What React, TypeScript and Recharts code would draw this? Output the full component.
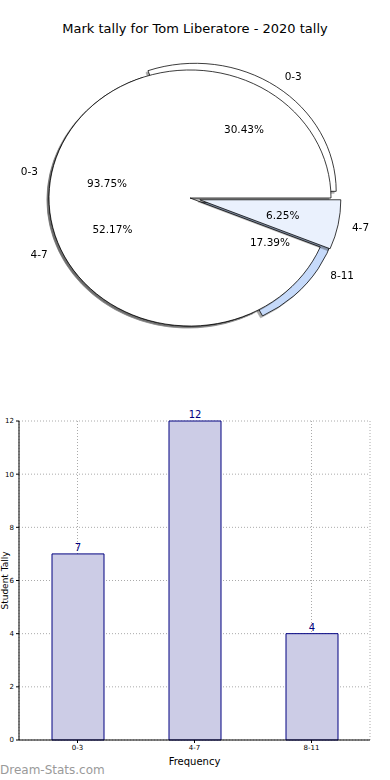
import React from 'react';
import {
    PieChart,
    Pie,
    Cell,
    BarChart,
    Bar,
    XAxis,
    YAxis,
    CartesianGrid,
    LabelList
} from 'recharts';

// Chart data
const ranges = ['0-3', '4-7', '8-11'];
const tally = [7, 12, 4];
const innerRanges = ['0-3', '4-7'];
const innerTally = [15, 1];
const yTicks = [0, 2, 4, 6, 8, 10, 12];

const outerData = ranges.map((range, i) => ({ range, count: tally[i] }));
const innerData = innerRanges.map((range, i) => ({ range, count: innerTally[i] }));

const outerFills = ['#ffffff', '#ffffff', '#c6dafa'];
const innerFills = ['#ffffff', '#eaf1fd'];
const outerExplode = [9, 0, 9];
const innerExplode = [0, 10];

const FONT = '"DejaVu Sans", Verdana, sans-serif';
const SCALE_Y = 0.908;
const RADIAN = Math.PI / 180;
const CX = 190;
const CY = 198;
const R = 141;

const midAngles = (vals: number[]) => {
    const total = vals.reduce((a, b) => a + b, 0);
    let acc = 0;
    return vals.map((v) => {
        const m = ((acc + v / 2) / total) * 360;
        acc += v;
        return m;
    });
};

const sectorStyle = (angle: number, off: number): React.CSSProperties => ({
    transform: `translate(${off * Math.cos(angle * RADIAN)}px, ${-off * Math.sin(angle * RADIAN)}px)`,
    filter: 'drop-shadow(-1.5px 2px 0px rgba(0,0,0,0.35))'
});

// undo the vertical squash on text
const counter = (x: number, y: number) =>
    `translate(${x} ${y}) scale(1 ${1 / SCALE_Y}) translate(${-x} ${-y})`;

const makeLabel = (explode: number[]) => (props: any) => {
    const { cx, cy, midAngle, outerRadius, index, percent, range } = props;
    const off = explode[index] || 0;
    const cos = Math.cos(-midAngle * RADIAN);
    const sin = Math.sin(-midAngle * RADIAN);
    const ox = cx + off * cos;
    const oy = cy + off * sin;
    const nx = ox + outerRadius * 1.1 * cos;
    const ny = oy + outerRadius * 1.1 * sin;
    const px = ox + outerRadius * 0.6 * cos;
    const py = oy + outerRadius * 0.6 * sin;
    return (
        <g>
            <text x={nx} y={ny} fill="#000" fontSize={10.5} fontFamily={FONT}
                textAnchor={cos >= 0 ? 'start' : 'end'} dominantBaseline="central"
                transform={counter(nx, ny)}>
                {range}
            </text>
            <text x={px} y={py} fill="#000" fontSize={10.5} fontFamily={FONT}
                textAnchor="middle" dominantBaseline="central"
                transform={counter(px, py)}>
                {(percent * 100).toFixed(2)}%
            </text>
        </g>
    );
};

const App = () => {
    const outerMid = midAngles(tally);
    const innerMid = midAngles(innerTally);

    return (
        <div style={{ position: 'absolute', top: 0, left: 0, width: 390, height: 780, background: '#fff', fontFamily: FONT, overflow: 'hidden' }}>
            {/* Title */}
            <div style={{ position: 'absolute', top: 21, left: 0, width: 390, textAlign: 'center', fontSize: 13, color: '#000' }}>
                Mark tally for Tom Liberatore - 2020 tally
            </div>

            {/* Pies */}
            <div style={{ position: 'absolute', top: 0, left: 0, width: 390, height: 360, transform: `scaleY(${SCALE_Y})`, transformOrigin: `${CX}px ${CY}px` }}>
                <PieChart width={390} height={360} margin={{ top: 0, right: 0, bottom: 0, left: 0 }}>
                    <Pie
                        data={outerData}
                        dataKey="count"
                        nameKey="range"
                        cx={CX}
                        cy={CY}
                        outerRadius={R}
                        startAngle={0}
                        endAngle={360}
                        stroke="#000"
                        strokeWidth={0.8}
                        labelLine={false}
                        label={makeLabel(outerExplode)}
                        isAnimationActive={false}
                    >
                        {outerData.map((d, i) => (
                            <Cell key={d.range} fill={outerFills[i]} style={sectorStyle(outerMid[i], outerExplode[i])} />
                        ))}
                    </Pie>
                    <Pie
                        data={innerData}
                        dataKey="count"
                        nameKey="range"
                        cx={CX}
                        cy={CY}
                        outerRadius={R}
                        startAngle={0}
                        endAngle={360}
                        stroke="#000"
                        strokeWidth={0.8}
                        labelLine={false}
                        label={makeLabel(innerExplode)}
                        isAnimationActive={false}
                    >
                        {innerData.map((d, i) => (
                            <Cell key={d.range} fill={innerFills[i]} style={sectorStyle(innerMid[i], innerExplode[i])} />
                        ))}
                    </Pie>
                </PieChart>
            </div>

            {/* Bars */}
            <div style={{ position: 'absolute', top: 400, left: 0, width: 390, height: 380 }}>
                <BarChart
                    width={390}
                    height={380}
                    data={outerData}
                    margin={{ top: 21, right: 20, left: 0, bottom: 10 }}
                >
                    <CartesianGrid stroke="#aaaaaa" strokeDasharray="1 2" />
                    <XAxis
                        dataKey="range"
                        height={30}
                        tick={{ fill: '#000', fontSize: 7, fontFamily: FONT }}
                        tickSize={3}
                        tickLine={{ stroke: '#000' }}
                        axisLine={{ stroke: '#000' }}
                        label={{ value: 'Frequency', position: 'insideBottom', offset: 5, fill: '#000', fontSize: 10, fontFamily: FONT }}
                    />
                    <XAxis xAxisId="top" orientation="top" dataKey="range" height={0} tick={false} tickLine={false} axisLine={{ stroke: '#000' }} />
                    <YAxis
                        domain={[0, 12]}
                        ticks={yTicks}
                        width={19}
                        tick={{ fill: '#000', fontSize: 7, fontFamily: FONT }}
                        tickSize={3}
                        tickLine={{ stroke: '#000' }}
                        axisLine={{ stroke: '#000' }}
                        label={{ value: 'Student Tally', angle: -90, position: 'insideLeft', offset: 5, fill: '#000', fontSize: 9, fontFamily: FONT, style: { textAnchor: 'middle' } }}
                    />
                    <YAxis yAxisId="right" orientation="right" width={0} domain={[0, 12]} tick={false} tickLine={false} axisLine={{ stroke: '#000' }} />
                    <Bar dataKey="count" barSize={52} fill="#cccce6" stroke="#000080" strokeWidth={1} isAnimationActive={false}>
                        <LabelList dataKey="count" position="top" offset={3} fill="#000080" fontSize={10} fontFamily={FONT} />
                    </Bar>
                </BarChart>
            </div>

            {/* Watermark */}
            <div style={{ position: 'absolute', top: 763, left: 0, fontSize: 12, color: '#9a9a9a' }}>
                Dream-Stats.com
            </div>
        </div>
    );
};

export default App;
